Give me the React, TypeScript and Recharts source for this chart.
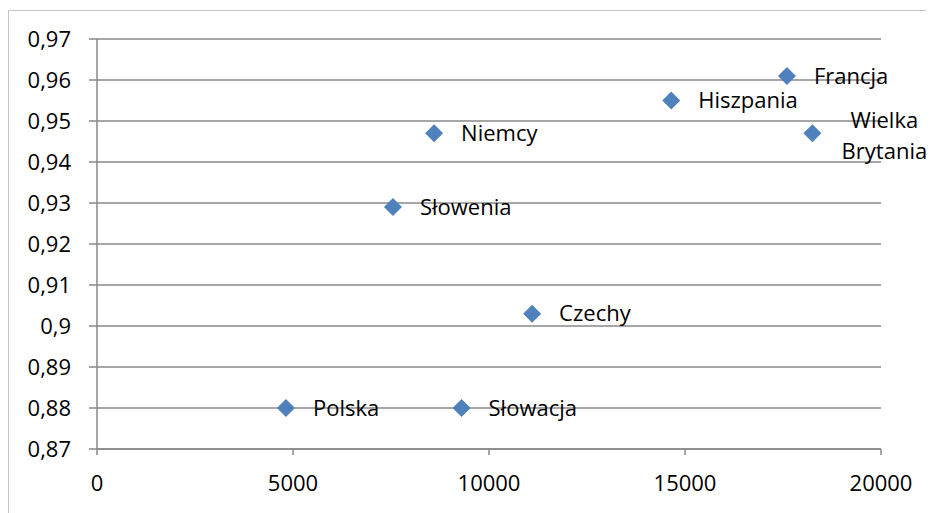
import { CartesianGrid, Scatter, ScatterChart, XAxis, YAxis } from "recharts";

const countries = ["Polska", "Słowacja", "Czechy", "Słowenia", "Niemcy", "Hiszpania", "Francja", "Wielka Brytania"];
const gdp = [4820, 9300, 11100, 7550, 8600, 14650, 17600, 18250];
const index = [0.88, 0.88, 0.903, 0.929, 0.947, 0.955, 0.961, 0.947];

const xTicks = [0, 5000, 10000, 15000, 20000];
const yTicks = [0.87, 0.88, 0.89, 0.9, 0.91, 0.92, 0.93, 0.94, 0.95, 0.96, 0.97];

const data = countries.map((name, i) => ({ name, x: gdp[i], y: index[i] }));

const FONT = "'Open Sans', sans-serif";
const GRAY = "#888888";

function Diamond(props: any) {
  const { cx, cy, payload } = props;
  const r = 9;
  const name: string = payload.name;
  const parts = name === "Wielka Brytania" ? ["Wielka", "Brytania"] : [name];
  return (
    <g>
      <polygon
        points={`${cx},${cy - r} ${cx + r},${cy} ${cx},${cy + r} ${cx - r},${cy}`}
        fill="#4f81bd"
      />
      {parts.length === 1 ? (
        <text x={cx + 27} y={cy} dy="0.35em" fontSize={22} fontFamily={FONT} fill="#000">
          {name}
        </text>
      ) : (
        <text x={cx + 72} y={cy} fontSize={22} fontFamily={FONT} fill="#000" textAnchor="middle">
          <tspan x={cx + 72} dy="-0.25em">{parts[0]}</tspan>
          <tspan x={cx + 72} dy="1.4em">{parts[1]}</tspan>
        </text>
      )}
    </g>
  );
}

export default function App() {
  return (
    <div style={{ width: 926, height: 505, overflow: "hidden" }}>
      <div style={{ marginTop: 2, width: 940, height: 520, border: "1px solid #c4c4c4", fontFamily: FONT }}>
        <ScatterChart width={938} height={518} margin={{ top: 28, right: 66, bottom: 50, left: 0 }}>
          <CartesianGrid horizontal vertical={false} stroke={GRAY} strokeWidth={1.5} />
          <XAxis
            type="number"
            dataKey="x"
            domain={[0, 20000]}
            ticks={xTicks}
            height={30}
            stroke={GRAY}
            strokeWidth={1.5}
            tickSize={6}
            tickMargin={20}
            tick={{ fontSize: 22, fill: "#000", fontFamily: FONT }}
          />
          <YAxis
            type="number"
            dataKey="y"
            domain={[0.87, 0.97]}
            ticks={yTicks}
            width={88}
            stroke={GRAY}
            strokeWidth={1.5}
            tickSize={8}
            tickMargin={18}
            interval={0}
            tick={{ fontSize: 22, fill: "#000", fontFamily: FONT }}
            tickFormatter={(v: number) => String(+v.toFixed(2)).replace(".", ",")}
          />
          <Scatter data={data} shape={<Diamond />} isAnimationActive={false} />
        </ScatterChart>
      </div>
    </div>
  );
}
